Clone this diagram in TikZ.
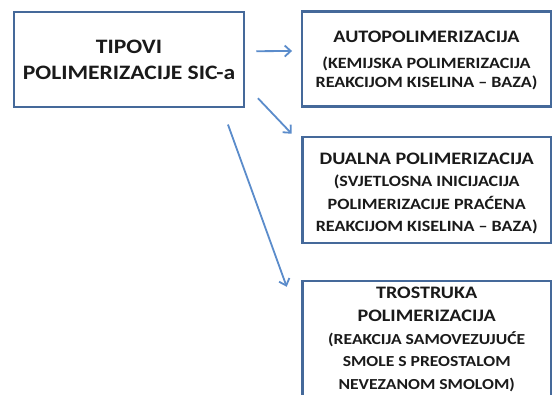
\documentclass[tikz,border=0pt]{standalone}
\usepackage{fontspec}
\setmainfont{Carlito}[FakeStretch=1.15]
\usetikzlibrary{arrows.meta}
\definecolor{boxcol}{HTML}{45699A}
\definecolor{arrcol}{HTML}{5B8CCB}
\definecolor{txtcol}{HTML}{1A1A1A}
\tikzset{
  box/.style={draw=boxcol, line width=2.5pt, fill=white, inner sep=0pt, align=center, text=txtcol, font=\bfseries},
  txt/.style={inner sep=0pt, align=center, text=txtcol},
  conn/.style={draw=arrcol, line width=1.8pt, -{Straight Barb[length=6pt,width=11pt,line width=1.8pt]}}
}
\begin{document}
\begin{tikzpicture}[x=1pt,y=1pt]
\useasboundingbox (0,0) rectangle (554,394);
\clip (0,0) rectangle (554,394);
\fill[white] (0,0) rectangle (554,394);
\node[box, minimum width=230pt, minimum height=95pt, font=\bfseries\fontsize{20.5}{26}\selectfont] (b1) at (129,334.5) {TIPOVI\\POLIMERIZACIJE SIC-a};
\node[box, minimum width=249pt, minimum height=95pt] (b2) at (426.5,335) {};
\node[txt, font=\bfseries\fontsize{15.7}{19}\selectfont] (t2) at ([yshift=-1.5pt]b2.center) {{\fontsize{17.5}{19}\selectfont AUTOPOLIMERIZACIJA}\\[6.5pt](KEMIJSKA POLIMERIZACIJA\\REAKCIJOM KISELINA – BAZA)};
\node[box, minimum width=248.5pt, minimum height=106pt] (b3) at (426.7,204) {};
\node[txt, font=\bfseries\fontsize{15.7}{22.5}\selectfont] (t3) at ([yshift=-3.5pt]b3.center) {{\fontsize{17.5}{22.5}\selectfont DUALNA POLIMERIZACIJA}\\(SVJETLOSNA INICIJACIJA\\POLIMERIZACIJE PRAĆENA\\REAKCIJOM KISELINA – BAZA)};
\node[box, minimum width=248.5pt, minimum height=117pt] (b4) at (426.7,54.5) {};
\node[txt, font=\bfseries\fontsize{15.3}{22.8}\selectfont] (t4) at ([yshift=0pt]b4.center) {{\fontsize{17.5}{22.8}\selectfont TROSTRUKA}\\{\fontsize{17.5}{22.8}\selectfont POLIMERIZACIJA}\\(REAKCIJA SAMOVEZUJUĆE\\SMOLE S PREOSTALOM\\NEVEZANOM SMOLOM)};
\draw[conn] ([shift={(11pt,8.3pt)}]b1.east) -- ([shift={(-8.7pt,8pt)}]b2.west);
\draw[conn] ([shift={(12.7pt,10pt)}]b1.south east) -- ([shift={(-9.5pt,2pt)}]b3.north west);
\draw[conn] ([shift={(-17.3pt,-16.3pt)}]b1.south east) -- ([shift={(-14.5pt,-7pt)}]b4.north west);
\end{tikzpicture}
\end{document}
